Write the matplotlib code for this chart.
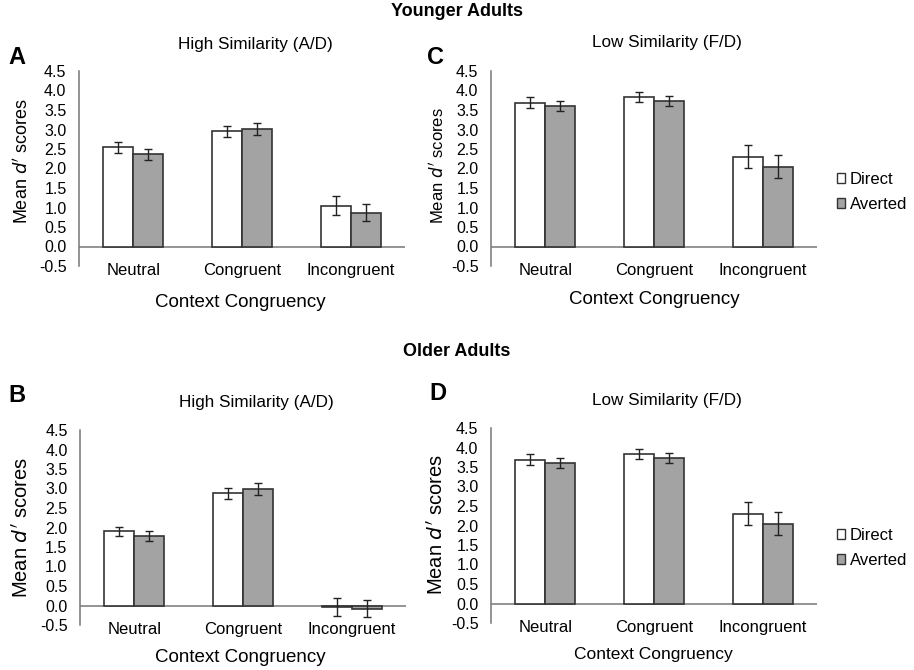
import matplotlib
matplotlib.use("Agg")
from matplotlib import pyplot as plt
from matplotlib.patches import Patch
import numpy as np

plt.rcParams["font.family"] = ["Liberation Sans", "DejaVu Sans"]

W, H = 914, 670

categories = ["Neutral", "Congruent", "Incongruent"]
yticks = np.arange(-0.5, 4.51, 0.5)

# younger adults
young_high_direct = [2.55, 2.95, 1.05]
young_high_direct_err = [0.14, 0.15, 0.25]
young_high_averted = [2.37, 3.02, 0.87]
young_high_averted_err = [0.14, 0.15, 0.22]

young_low_direct = [3.69, 3.84, 2.30]
young_low_direct_err = [0.15, 0.13, 0.29]
young_low_averted = [3.61, 3.72, 2.05]
young_low_averted_err = [0.13, 0.13, 0.29]

# older adults
old_high_direct = [1.90, 2.88, -0.05]
old_high_direct_err = [0.12, 0.14, 0.23]
old_high_averted = [1.78, 2.98, -0.08]
old_high_averted_err = [0.12, 0.15, 0.21]

old_low_direct = [3.69, 3.84, 2.30]
old_low_direct_err = [0.15, 0.13, 0.29]
old_low_averted = [3.61, 3.72, 2.05]
old_low_averted_err = [0.13, 0.13, 0.29]

GREY = "#a3a3a3"
EDGE = "#333333"


def px(x, y):
    return x / W, 1 - y / H


def axes_px(x0, x1, ytop, ybot):
    return [x0 / W, 1 - ybot / H, (x1 - x0) / W, (ybot - ytop) / H]


def panel(fig, rect, direct, derr, averted, aerr, title, title_xy, letter, letter_xy,
          ylab_xy, ylab_size, xlab_xy, xlab_size):
    ax = fig.add_axes(axes_px(*rect))
    x = np.arange(len(categories))
    bw = 0.276
    ebar = dict(ecolor="#222222", elinewidth=1, capthick=1)
    ax.bar(x - bw / 2, direct, bw, color="white", edgecolor=EDGE, linewidth=1.2,
           yerr=derr, capsize=3, error_kw=ebar)
    ax.bar(x + bw / 2, averted, bw, color=GREY, edgecolor=EDGE, linewidth=1.2,
           yerr=aerr, capsize=3, error_kw=ebar)
    ax.axhline(0, color="#777777", linewidth=1.1, zorder=0)
    ax.set_xlim(-0.5, 2.5)
    ax.set_ylim(-0.5, 4.5)
    ax.set_yticks(yticks)
    ax.set_yticklabels([f"{v:.1f}" for v in yticks])
    ax.set_xticks(x)
    ax.set_xticklabels(categories)
    for s in ["top", "right", "bottom"]:
        ax.spines[s].set_visible(False)
    ax.spines["left"].set_color("#777777")
    ax.spines["left"].set_linewidth(1.1)
    ax.tick_params(axis="y", length=0, pad=9, labelsize=11.5)
    ax.tick_params(axis="x", length=0, pad=-2, labelsize=12)
    ax.patch.set_alpha(0)

    fig.text(*px(*title_xy), title, ha="center", va="center", fontsize=12.3)
    fig.text(*px(*letter_xy), letter, ha="center", va="center", fontsize=17, fontweight="bold")
    fig.text(*px(*ylab_xy), "Mean $\\mathit{d'}$ scores", rotation=90, ha="center",
             va="center", fontsize=ylab_size)
    fig.text(*px(*xlab_xy), "Context Congruency", ha="center", va="center", fontsize=xlab_size)
    return ax


fig = plt.figure(figsize=(W / 100, H / 100), dpi=100)

fig.text(*px(457, 12), "Younger Adults", ha="center", va="center", fontsize=13, fontweight="bold")
fig.text(*px(457, 351), "Older Adults", ha="center", va="center", fontsize=13, fontweight="bold")

panel(fig, (79, 405, 71, 266), young_high_direct, young_high_direct_err,
      young_high_averted, young_high_averted_err,
      "High Similarity (A/D)", (255, 44), "A", (17, 57), (22, 161), 13, (240, 303), 13.5)
panel(fig, (491, 817, 71, 266), young_low_direct, young_low_direct_err,
      young_low_averted, young_low_averted_err,
      "Low Similarity (F/D)", (667, 42), "C", (435, 57), (437, 166), 12, (654, 300), 13.5)
panel(fig, (80, 406, 430, 625), old_high_direct, old_high_direct_err,
      old_high_averted, old_high_averted_err,
      "High Similarity (A/D)", (256, 402), "B", (17, 396), (22, 528), 14.5, (240, 658), 13.5)
panel(fig, (491, 817, 428, 623), old_low_direct, old_low_direct_err,
      old_low_averted, old_low_averted_err,
      "Low Similarity (F/D)", (667, 401), "D", (438, 393), (437, 525), 14.5, (653, 654), 12.5)

handles = [Patch(facecolor="white", edgecolor=EDGE, linewidth=1),
           Patch(facecolor=GREY, edgecolor=EDGE, linewidth=1)]
for ly in (192, 548):
    fig.legend(handles, ["Direct", "Averted"], loc="center left",
               bbox_to_anchor=px(837, ly), frameon=False, fontsize=12,
               borderpad=0, borderaxespad=0,
               handlelength=0.5, handleheight=0.5, handletextpad=0.25, labelspacing=0.6)

fig.savefig("out.png", dpi=100)
